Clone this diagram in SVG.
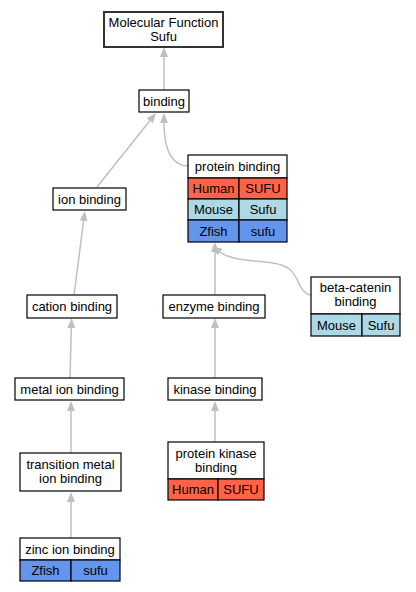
<svg xmlns="http://www.w3.org/2000/svg" width="416" height="592" viewBox="0 0 416 592">
<style>
text{font-family:"Liberation Sans",Arial,sans-serif;font-size:13px;fill:#000;text-anchor:middle}
.b{fill:#fff;stroke:#000;stroke-width:1.2}
.root{fill:#fff;stroke:#333;stroke-width:2}
.hu{fill:#ff6347;stroke:#000;stroke-width:1.2}
.mo{fill:#add8e6;stroke:#000;stroke-width:1.2}
.zf{fill:#6495ed;stroke:#000;stroke-width:1.2}
.e{fill:none;stroke:#c0c0c0;stroke-width:1.5}
</style>
<defs>
<marker id="ah" viewBox="0 0 10 8" refX="0" refY="4" markerWidth="10" markerHeight="8" markerUnits="userSpaceOnUse" orient="auto">
<path d="M0,0 L10,4 L0,8 z" fill="#c0c0c0"/>
</marker>
</defs>
<rect width="416" height="592" fill="#fff"/>
<g id="edges">
<path class="e" d="M164,90 L164,57" marker-end="url(#ah)"/>
<path class="e" d="M97,187 L149.8,120.8" marker-end="url(#ah)"/>
<path class="e" d="M188,166 C172,166 164,150 164,123" marker-end="url(#ah)"/>
<path class="e" d="M74,295 L83.6,221" marker-end="url(#ah)"/>
<path class="e" d="M70,378 L71.3,328" marker-end="url(#ah)"/>
<path class="e" d="M71,453 L71,411" marker-end="url(#ah)"/>
<path class="e" d="M71,538 L71,502" marker-end="url(#ah)"/>
<path class="e" d="M215,295 L215,252" marker-end="url(#ah)"/>
<path class="e" d="M311,295 C298,293 300,276 288,268 C272,258 238,265 220,252" marker-end="url(#ah)"/>
<path class="e" d="M215,378 L215,328" marker-end="url(#ah)"/>
<path class="e" d="M215,442 L215,411" marker-end="url(#ah)"/>
</g>
<g id="node-root">
<rect class="root" x="104" y="12" width="119" height="35"/>
<text x="163.5" y="27">Molecular Function</text>
<text x="163.5" y="41">Sufu</text>
</g>
<g id="node-binding">
<rect class="b" x="139" y="90" width="50" height="22"/>
<text x="164" y="105.5">binding</text>
</g>
<g id="node-ion-binding">
<rect class="b" x="53" y="188" width="73" height="22"/>
<text x="89.5" y="203.5">ion binding</text>
</g>
<g id="node-protein-binding">
<rect class="b" x="188" y="155" width="99" height="23"/>
<text x="237.5" y="171">protein binding</text>
<rect class="hu" x="188" y="178" width="51" height="21"/>
<rect class="hu" x="239" y="178" width="48" height="21"/>
<text x="213.5" y="193">Human</text>
<text x="263" y="193">SUFU</text>
<rect class="mo" x="188" y="199" width="51" height="21"/>
<rect class="mo" x="239" y="199" width="48" height="21"/>
<text x="213.5" y="214">Mouse</text>
<text x="263" y="214">Sufu</text>
<rect class="zf" x="188" y="220" width="51" height="22"/>
<rect class="zf" x="239" y="220" width="48" height="22"/>
<text x="213.5" y="235.5">Zfish</text>
<text x="263" y="235.5">sufu</text>
</g>
<g id="node-cation-binding">
<rect class="b" x="27" y="295" width="90" height="23"/>
<text x="72" y="311">cation binding</text>
</g>
<g id="node-enzyme-binding">
<rect class="b" x="163" y="295" width="102" height="23"/>
<text x="214" y="311">enzyme binding</text>
</g>
<g id="node-beta-catenin-binding">
<rect class="b" x="311" y="277" width="89" height="37"/>
<text x="355.5" y="292">beta-catenin</text>
<text x="355.5" y="306">binding</text>
<rect class="mo" x="311" y="314" width="51" height="22"/>
<rect class="mo" x="362" y="314" width="38" height="22"/>
<text x="336.5" y="329.5">Mouse</text>
<text x="381" y="329.5">Sufu</text>
</g>
<g id="node-metal-ion-binding">
<rect class="b" x="15" y="378" width="109" height="22"/>
<text x="69.5" y="393.5">metal ion binding</text>
</g>
<g id="node-kinase-binding">
<rect class="b" x="168" y="378" width="94" height="22"/>
<text x="215" y="393.5">kinase binding</text>
</g>
<g id="node-transition-metal-ion-binding">
<rect class="b" x="20" y="453" width="101" height="38"/>
<text x="70.5" y="469">transition metal</text>
<text x="70.5" y="483">ion binding</text>
</g>
<g id="node-protein-kinase-binding">
<rect class="b" x="168" y="442" width="96" height="37"/>
<text x="216" y="457.5">protein kinase</text>
<text x="216" y="471.5">binding</text>
<rect class="hu" x="168" y="479" width="50" height="21"/>
<rect class="hu" x="218" y="479" width="46" height="21"/>
<text x="193" y="494">Human</text>
<text x="241" y="494">SUFU</text>
</g>
<g id="node-zinc-ion-binding">
<rect class="b" x="20" y="538" width="100" height="22"/>
<text x="70" y="553.5">zinc ion binding</text>
<rect class="zf" x="20" y="560" width="51" height="21"/>
<rect class="zf" x="71" y="560" width="49" height="21"/>
<text x="45.5" y="575">Zfish</text>
<text x="95.5" y="575">sufu</text>
</g>
</svg>
